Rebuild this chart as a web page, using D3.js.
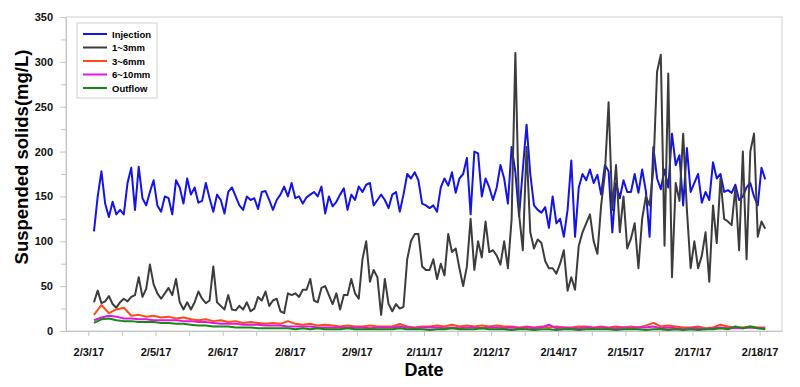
<!DOCTYPE html>
<html>
<head>
<meta charset="utf-8">
<script src="https://d3js.org/d3.v7.min.js"></script>
<style>
  body { margin: 0; background: #fff; }
  svg { font-family: "Liberation Sans", Arial, sans-serif; }
  .axis path, .axis line { stroke: #c4c4c4; }
  .axis text { font-size: 11px; font-weight: bold; fill: #111; }
</style>
</head>
<body>
<div id="chart"></div>
<script>
  // Series values (mg/L). Fine series every 2 h, coarse series every 4 h, both from 2/3/17 15:00
  var injection = [
    111,150,178,142,127,144,130,135,130,165, 182,135,183,148,140,155,168,140,133,150,
    148,130,168,160,142,170,152,160,143,145, 165,148,133,152,146,131,155,160,150,140,
    135,150,146,148,136,155,156,146,135,146, 152,161,150,165,148,150,142,149,152,155,
    150,161,131,150,139,144,152,159,135,152, 146,161,155,163,165,140,146,152,146,137,
    152,155,133,152,175,170,177,168,142,140, 137,140,133,160,170,162,177,154,170,175,
    193,130,200,198,150,170,160,146,160,185, 170,142,205,177,128,180,230,175,140,135,
    132,138,115,150,120,125,105,135,190,105, 160,175,168,180,165,174,152,185,178,110,
    165,148,168,155,155,175,154,180,156,105, 205,170,158,180,160,220,185,196,140,204,
    155,165,175,143,155,146,188,170,175,155, 157,154,163,146,150,160,165,150,140,182,
    169
  ];
  var mm1to3 = [
    32,45,31,33,39,30,26,32,36,33, 38,40,60,38,47,74,52,42,36,42,
    48,40,58,32,24,32,24,32,44,36, 31,34,72,32,28,24,40,24,23,28,
    24,32,22,25,38,34,44,28,34,36, 22,20,42,40,42,38,46,46,58,34,
    32,48,50,40,30,42,24,40,40,58, 42,36,80,100,55,68,60,18,58,30,
    22,30,25,27,80,100,108,108,72,68, 68,80,58,75,62,108,88,92,70,50,
    72,125,68,100,82,122,88,90,84,74, 100,70,125,310,130,90,205,110,92,102,
    98,78,70,70,64,75,90,45,60,46, 95,110,120,130,100,86,140,175,255,135,
    185,110,150,92,103,120,70,125,150,140, 180,289,308,95,287,60,165,145,220,135,
    70,100,70,84,110,55,140,98,170,125, 122,118,160,90,200,80,200,220,105,122,
    114
  ];
  var mm3to6 = [
    18,29,20,24,26,17,18,16,17,15, 16,14,15,13,12,13,11,12,10,11,
    9,10,9,8,9,8,11,8,7,8, 6,7,6,5,6,5,5,6,5,5,
    5,8,5,4,5,5,6,5,7,5, 6,5,6,5,6,5,5,4,5,4,
    5,4,5,4,4,5,5,4,5,4, 5,4,5,4,6,9,5,6,5,4,
    4,5,3,4,7,5,4,4,5,4, 4
  ];
  var mm6to10 = [
    12,15,17,16,14,14,13,13,12,12, 12,12,11,11,10,10,9,8,8,8,
    7,7,7,6,6,6,5,5,5,5, 4,4,4,4,4,4,4,3,4,4,
    4,5,4,3,4,4,4,3,4,3, 4,4,3,4,4,3,4,3,4,3,
    4,7,3,4,3,3,4,3,4,3, 3,4,3,4,4,5,3,4,3,2,
    3,3,2,3,4,3,3,3,4,3, 3
  ];
  var outflow = [
    9,13,14,12,11,11,10,10,10,9, 9,8,8,7,6,6,5,5,5,4,
    4,4,3,3,3,3,3,2,3,2, 3,2,2,2,3,2,2,2,2,2,
    2,3,2,2,2,1,2,2,3,2, 2,2,3,2,2,2,1,2,2,1,
    2,2,1,2,2,1,2,2,2,2, 1,2,2,2,1,2,2,1,2,1,
    2,1,2,2,3,2,5,3,5,3, 2
  ];

  var seriesNames = ["Injection", "1~3mm", "3~6mm", "6~10mm", "Outflow"];
  var seriesColors = ["#1414e6", "#3c3c3c", "#ff4a14", "#e614e6", "#148a14"];

  var xTickLabels = ["2/3/17","2/5/17","2/6/17","2/8/17","2/9/17","2/11/17",
                     "2/12/17","2/14/17","2/15/17","2/17/17","2/18/17"];
  var yTicks = [0, 50, 100, 150, 200, 250, 300, 350];

  // Build the time points for each series
  var startTime = new Date(2017, 1, 3, 15);
  function toPoints(values, stepHours) {
    return values.map(function(v, i) {
      return { t: d3.timeHour.offset(startTime, i * stepHours), v: v };
    });
  }
  var series = [
    toPoints(injection, 2), toPoints(mm1to3, 2),
    toPoints(mm3to6, 4), toPoints(mm6to10, 4), toPoints(outflow, 4)
  ];

  var width = 800, height = 387;
  var plot = { left: 66, right: 782, top: 17, bottom: 331 };

  var svg = d3.select("#chart").append("svg")
              .attr("width", width)
              .attr("height", height);

  var xScale = d3.scaleTime()
                 .domain([new Date(2017, 1, 3, 0), new Date(2017, 1, 19, 0)])
                 .range([plot.left, plot.right]);
  var yScale = d3.scaleLinear()
                 .domain([0, 350])
                 .range([plot.bottom, plot.top]);

  // Frame
  svg.append("rect")
     .attr("x", plot.left).attr("y", plot.top)
     .attr("width", plot.right - plot.left).attr("height", plot.bottom - plot.top)
     .attr("fill", "none").attr("stroke", "#d0d0d0");

  // Y axis: labelled ticks every 50, minor every 25
  svg.append("g").attr("class", "axis")
     .attr("transform", "translate(" + plot.left + ",0)")
     .call(d3.axisLeft(yScale).tickValues(d3.range(25, 350, 50)).tickSize(5).tickFormat(""))
     .call(function(g) { g.select(".domain").remove(); });
  svg.append("g").attr("class", "axis")
     .attr("transform", "translate(" + plot.left + ",0)")
     .call(d3.axisLeft(yScale).tickValues(yTicks).tickSize(6).tickPadding(7).tickSizeOuter(0));

  // X axis: labelled ticks every 36 h, minor every 18 h
  var xTickDates = xTickLabels.map(function(d, i) { return d3.timeHour.offset(new Date(2017, 1, 3, 12), i * 36); });
  var xMinor = xTickDates.slice(0, -1).map(function(d) { return d3.timeHour.offset(d, 18); });
  svg.append("g").attr("class", "axis")
     .attr("transform", "translate(0," + plot.bottom + ")")
     .call(d3.axisBottom(xScale).tickValues(xMinor).tickSize(5).tickFormat(""))
     .call(function(g) { g.select(".domain").remove(); });
  svg.append("g").attr("class", "axis")
     .attr("transform", "translate(0," + plot.bottom + ")")
     .call(d3.axisBottom(xScale).tickValues(xTickDates).tickSize(5).tickPadding(12).tickSizeOuter(0)
             .tickFormat(function(d, i) { return xTickLabels[i]; }));

  // Axis titles
  svg.append("text")
     .attr("x", (plot.left + plot.right) / 2).attr("y", 376)
     .attr("text-anchor", "middle")
     .style("font-size", "18px").style("font-weight", "bold")
     .text("Date");
  svg.append("text")
     .attr("transform", "translate(28,157) rotate(-90)")
     .attr("text-anchor", "middle")
     .style("font-size", "18.5px").style("font-weight", "bold")
     .text("Suspended solids(mg/L)");

  // Lines
  var line = d3.line()
               .x(function(d) { return xScale(d.t); })
               .y(function(d) { return yScale(d.v); });
  series.forEach(function(s, i) {
    svg.append("path")
       .datum(s)
       .attr("fill", "none")
       .attr("stroke", seriesColors[i])
       .attr("stroke-width", 2)
       .attr("stroke-linejoin", "round")
       .attr("d", line);
  });

  // Legend
  var legend = svg.append("g").attr("transform", "translate(77,23)");
  legend.append("rect")
        .attr("width", 80).attr("height", 75)
        .attr("fill", "#fff").attr("stroke", "#d0d0d0");
  seriesNames.forEach(function(name, i) {
    var y = 11 + i * 13.5;
    legend.append("line")
          .attr("x1", 6).attr("x2", 30).attr("y1", y).attr("y2", y)
          .attr("stroke", seriesColors[i]).attr("stroke-width", 2);
    legend.append("text")
          .attr("x", 35).attr("y", y + 3.5)
          .style("font-size", "9.5px").style("font-weight", "bold")
          .text(name);
  });
</script>
</body>
</html>
